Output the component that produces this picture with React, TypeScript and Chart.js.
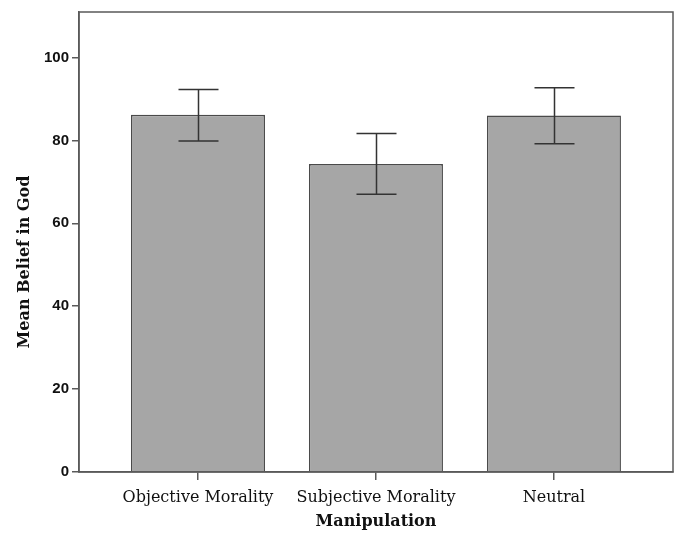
import React, { useEffect, useRef } from "react";
import { Chart, registerables } from "chart.js";

Chart.register(...registerables);

const categories = ["Objective Morality", "Subjective Morality", "Neutral"];
const means = [86.2, 74.3, 86.0];
const errLow = [79.9, 67.0, 79.2];
const errHigh = [92.3, 81.7, 92.7];
const yTicks = [0, 20, 40, 60, 80, 100];
const xTitle = "Manipulation";
const yTitle = "Mean Belief in God";

const AXIS = "#5a5a5a";
const SERIF = "'DejaVu Serif', 'Liberation Serif', serif";

const framePlugin = {
  id: "frame",
  afterDatasetsDraw(chart: any) {
    const { ctx, chartArea, scales } = chart;
    const xs = scales.x;
    const ys = scales.y;
    ctx.save();
    // error bars
    ctx.strokeStyle = "#333333";
    ctx.lineWidth = 1.5;
    categories.forEach((_, i) => {
      const cx = Math.round(xs.getPixelForValue(i + 1)) + 0.5;
      const yl = ys.getPixelForValue(errLow[i]);
      const yh = ys.getPixelForValue(errHigh[i]);
      const cap = 20;
      ctx.beginPath();
      ctx.moveTo(cx, yl);
      ctx.lineTo(cx, yh);
      ctx.moveTo(cx - cap, yl);
      ctx.lineTo(cx + cap, yl);
      ctx.moveTo(cx - cap, yh);
      ctx.lineTo(cx + cap, yh);
      ctx.stroke();
    });
    // frame
    ctx.strokeStyle = AXIS;
    ctx.lineWidth = 1.5;
    ctx.strokeRect(chartArea.left, chartArea.top, chartArea.right - chartArea.left, chartArea.bottom - chartArea.top);
    // titles
    ctx.fillStyle = "#111111";
    ctx.font = "bold 16px " + SERIF;
    ctx.textAlign = "center";
    ctx.textBaseline = "middle";
    ctx.fillText(xTitle, (chartArea.left + chartArea.right) / 2, 522);
    ctx.translate(25, 262);
    ctx.rotate(-Math.PI / 2);
    ctx.fillText(yTitle, 0, 0);
    ctx.restore();
  },
};

export default function App() {
  const ref = useRef<HTMLCanvasElement>(null);
  useEffect(() => {
    document.body.style.margin = "0";
    const canvas = ref.current;
    if (!canvas) return;
    const chart = new Chart(canvas, {
      type: "bar",
      data: {
        datasets: [
          {
            data: means.map((v, i) => ({ x: i + 1, y: v })),
            backgroundColor: "#a6a6a6",
            borderColor: "#4a4a4a",
            borderWidth: 1.5,
            barPercentage: 0.753,
            categoryPercentage: 1,
          },
        ],
      },
      options: {
        responsive: false,
        animation: false,
        devicePixelRatio: 1,
        layout: { padding: { top: 10, right: 2, left: 0, bottom: 0 } },
        plugins: { legend: { display: false }, tooltip: { enabled: false } },
        scales: {
          x: {
            type: "linear",
            offset: false,
            min: 0.3315,
            max: 3.669,
            afterBuildTicks: (scale: any) => {
              scale.ticks = categories.map((_, i) => ({ value: i + 1 }));
            },
            afterFit: (scale: any) => {
              scale.height = 66;
            },
            grid: { offset: false, drawOnChartArea: false, tickLength: 8, color: AXIS, tickColor: AXIS, lineWidth: 1.5 },
            border: { color: AXIS, width: 1.5 },
            ticks: {
              autoSkip: false,
              maxRotation: 0,
              padding: 8,
              color: "#111111",
              font: { family: SERIF, size: 16 },
              callback: (v: any) => categories[Math.round(v) - 1] ?? "",
            },
          },
          y: {
            min: 0,
            max: 111,
            afterBuildTicks: (scale: any) => {
              scale.ticks = yTicks.map((v) => ({ value: v }));
            },
            afterFit: (scale: any) => {
              scale.width = 79;
            },
            grid: { drawOnChartArea: false, tickLength: 7, color: AXIS, tickColor: AXIS, lineWidth: 1.5 },
            border: { color: AXIS, width: 1.5 },
            ticks: {
              padding: 3,
              color: "#111111",
              font: { family: "'Liberation Sans', Arial, sans-serif", size: 15, weight: "bold" },
            },
          },
        },
      },
      plugins: [framePlugin],
    } as any);
    return () => chart.destroy();
  }, []);
  return (
    <div style={{ width: 675, height: 538 }}>
      <canvas ref={ref} width={675} height={538} style={{ display: "block" }} />
    </div>
  );
}
